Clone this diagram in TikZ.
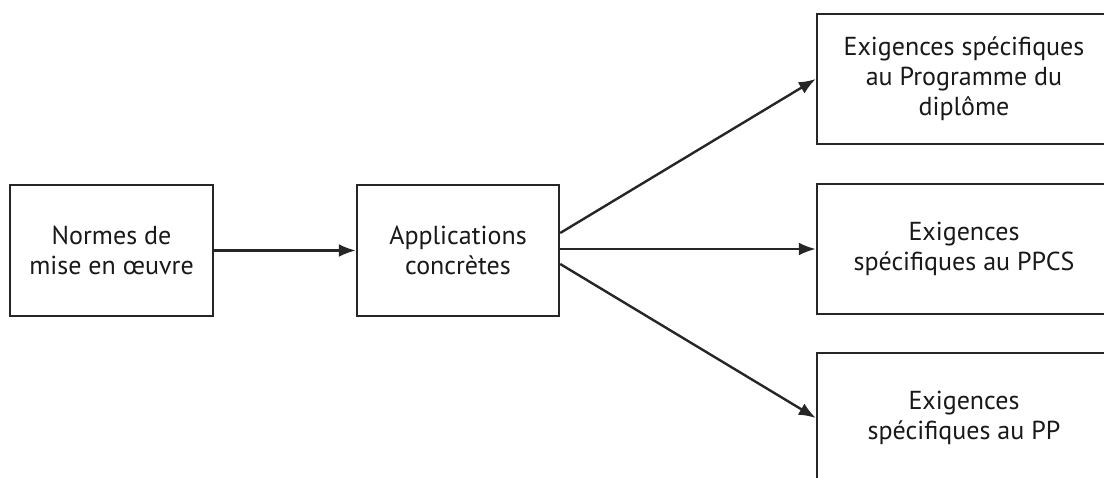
\documentclass[tikz,border=0pt]{standalone}
\usepackage{fontspec}
\setmainfont{PT Sans}
\usetikzlibrary{arrows.meta}
\begin{document}
\begin{tikzpicture}[x=1pt,y=-1pt,
  box/.style={draw=black!85, line width=2.4pt, align=center, inner sep=0pt,
    font=\fontsize{26}{30}\selectfont, text=black!90},
  conn/.style={draw=black!85, line width=2.4pt, -{Latex[length=17pt,width=13pt]}}]
\useasboundingbox (0,0) rectangle (1104,477);
\clip (0,0) rectangle (1104,477);
\fill[white] (0,0) rectangle (1104,477);
\node[box, minimum width=203pt, minimum height=131pt] (b1) at (111.5,250.5) {Normes de\\mise en œuvre};
\node[box, minimum width=202pt, minimum height=131pt] (b2) at (458,250.5) {Applications\\concrètes};
\node[box, minimum width=294pt, minimum height=130pt] (b3) at (964,79) {Exigences spécifiques\\au Programme du\\diplôme};
\node[box, minimum width=294pt, minimum height=130pt] (b4) at (964,249) {Exigences\\spécifiques au PPCS};
\node[box, minimum width=294pt, minimum height=130pt] (b5) at (964,418) {Exigences\\spécifiques au PP};
\draw[conn] (b1.east) -- (b2.west);
\draw[conn] ([yshift=17.5pt]b2.east) -- (b3.west);
\draw[conn] ([yshift=1.5pt]b2.east) -- (b4.west);
\draw[conn] ([yshift=-13.5pt]b2.east) -- (b5.west);
\end{tikzpicture}
\end{document}
